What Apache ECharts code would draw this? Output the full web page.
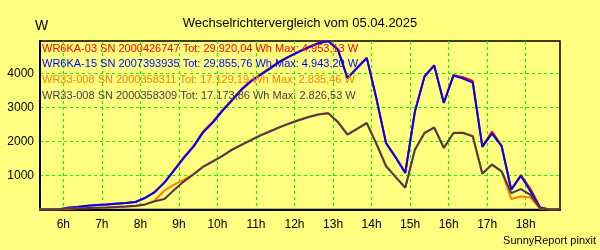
<!DOCTYPE html>
<html><head><meta charset="utf-8">
<script src="https://cdn.jsdelivr.net/npm/echarts@6/dist/echarts.min.js"></script>
<style>html,body{margin:0;padding:0;background:#ffff80;}#c{width:600px;height:250px;}</style>
</head><body><div id="c"></div>
<script>
const titleText = 'Wechselrichtervergleich vom 05.04.2025';
const unitText = 'W';
const footerText = 'SunnyReport pinxit';
const xTicks = [6,7,8,9,10,11,12,13,14,15,16,17,18];
const yTicks = [1000,2000,3000,4000];
const times = [5.375,5.625,5.875,6.125,6.375,6.625,6.875,7.125,7.375,7.625,7.875,8.125,8.375,8.625,8.875,9.125,9.375,9.625,9.875,10.125,10.375,10.625,10.875,11.125,11.375,11.625,11.875,12.125,12.375,12.625,12.875,13.125,13.375,13.625,13.875,14.125,14.375,14.625,14.875,15.125,15.375,15.625,15.875,16.125,16.375,16.625,16.875,17.125,17.375,17.625,17.875,18.125,18.375,18.625,18.875];
const names = ['WR6KA-03 SN 2000426747','WR6KA-15 SN 2007393935','WR33-008 SN 2000358311','WR33-008 SN 2000358309'];
const totals = ['29.920,04','29.855,76','17.129,19','17.173,86'];
const maxima = ['4.953,13','4.943,20','2.835,46','2.826,53'];
const colors = ['#ff0000','#0000ff','#ff8000','#4b3a4b'];
const red    = [0,0,0,0,50,110,130,150,160,190,220,345,520,800,1160,1530,1860,2290,2570,2910,3220,3540,3790,3980,4170,4360,4510,4650,4780,4900,4953.13,4710,3870,4170,4460,3270,1960,1540,1080,2890,3920,4240,3140,3950,3890,3780,1850,2290,1870,590,1010,600,60,0,0];
const blue   = [0,0,0,60,80,110,130,150,175,190,220,340,510,790,1150,1510,1840,2260,2550,2890,3200,3520,3770,3960,4150,4350,4500,4640,4770,4890,4943.2,4700,3860,4160,4450,3260,1950,1530,1070,2880,3910,4230,3130,3940,3850,3730,1840,2230,1860,580,990,530,50,0,0];
const orange = [0,0,0,30,35,40,50,50,70,85,95,150,270,560,730,870,1040,1260,1420,1580,1760,1910,2050,2190,2310,2430,2540,2640,2730,2800,2835.46,2575,2210,2375,2545,1940,1300,960,645,1765,2255,2415,1815,2255,2260,2170,1060,1320,1120,310,380,350,20,0,0];
const dark   = [0,0,0,35,40,45,55,60,75,90,110,150,240,310,570,820,1030,1250,1410,1570,1750,1900,2040,2180,2300,2420,2530,2630,2720,2790,2826.53,2570,2200,2370,2540,1930,1270,950,640,1760,2250,2410,1810,2250,2250,2150,1050,1320,1120,480,600,430,30,0,0];
const seriesValues = [red, blue, orange, dark];

const FONT = '"Liberation Sans", Arial, sans-serif';
const chart = echarts.init(document.getElementById('c'), null, {renderer:'canvas'});
const series = seriesValues.map((vals, i) => ({
  type: 'line', name: names[i], showSymbol: false, symbol: 'none', animation: false,
  lineStyle: {color: colors[i], width: 2}, itemStyle: {color: colors[i]},
  data: times.map((t, j) => [t, vals[j]]), z: 3 + i
}));
const legendGraphics = names.map((n, i) => ({
  type: 'text', left: 42, top: 43 + i * 15.8, z: 10,
  style: {text: n + ' Tot: ' + totals[i] + ' Wh Max: ' + maxima[i] + ' W', fill: colors[i], font: '11px ' + FONT}
}));
chart.setOption({
  backgroundColor: '#ffff80',
  animation: false,
  title: {text: titleText, left: 'center', top: 12, textStyle: {fontSize: 13, fontWeight: 'normal', color: '#000', fontFamily: FONT}},
  grid: {left: 40, right: 40, top: 41, bottom: 40.5, show: true, borderColor: '#000', borderWidth: 1.5, backgroundColor: 'transparent'},
  xAxis: {type: 'value', min: 5.395, max: 18.89,
    axisLine: {show: true, lineStyle: {color: '#000', width: 2}},
    axisTick: {show: false, customValues: xTicks},
    axisLabel: {customValues: xTicks, formatter: v => v + 'h', color: '#000', fontSize: 12, fontFamily: FONT, margin: 9},
    splitLine: {show: true, lineStyle: {color: '#00ff00', type: [3,3], width: 1}}},
  yAxis: {type: 'value', min: 0, max: 4953.13,
    axisLine: {show: true, lineStyle: {color: '#000', width: 2}},
    axisTick: {show: false, customValues: yTicks},
    axisLabel: {customValues: yTicks, formatter: v => String(v), color: '#000', fontSize: 12, fontFamily: FONT, margin: 6},
    splitLine: {show: true, lineStyle: {color: '#00ff00', type: [3,3], width: 1}}},
  graphic: [
    {type: 'text', left: 35, top: 19, style: {text: unitText, fill: '#000', font: '14px ' + FONT}},
    {type: 'text', right: 4, top: 235, style: {text: footerText, fill: '#000', font: '11px ' + FONT}}
  ].concat(legendGraphics),
  series: series
});
</script></body></html>
